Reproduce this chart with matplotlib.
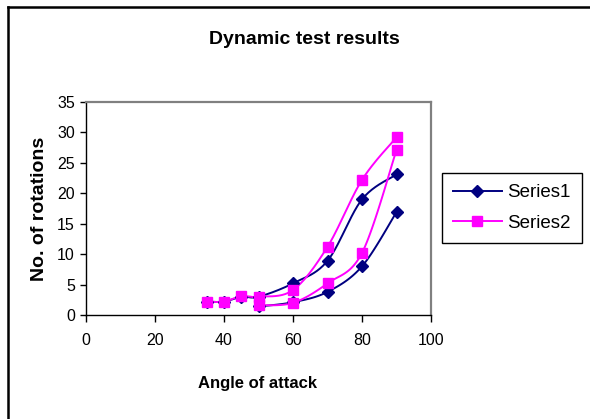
import numpy as np
import matplotlib
matplotlib.use("Agg")
import matplotlib.pyplot as plt
from matplotlib.lines import Line2D

plt.rcParams["font.family"] = ["Liberation Sans", "DejaVu Sans"]

# data (two branches per series: rising and falling angle)
s1_up_x = [35, 40, 45, 50, 60, 70, 80, 90]
s1_up_y = [2.2, 2.2, 3.0, 3.0, 5.2, 8.9, 19.0, 23.1]
s1_dn_x = [50, 60, 70, 80, 90]
s1_dn_y = [1.4, 2.1, 3.8, 8.0, 16.9]

s2_up_x = [35, 40, 45, 50, 60, 70, 80, 90]
s2_up_y = [2.2, 2.2, 3.1, 3.0, 4.1, 11.2, 22.2, 29.2]
s2_dn_x = [50, 60, 70, 80, 90]
s2_dn_y = [1.6, 2.0, 5.2, 10.2, 27.1]

x_ticks = [0, 20, 40, 60, 80, 100]
y_ticks = [0, 5, 10, 15, 20, 25, 30, 35]

NAVY = "#000080"
MAGENTA = "#FF00FF"


def smooth(xs, ys, n=24):
    # Catmull-Rom curve through the points, like Excel's smoothed line
    p = np.column_stack([xs, ys]).astype(float)
    p = np.vstack([p[0], p, p[-1]])
    out = []
    for i in range(1, len(p) - 2):
        p0, p1, p2, p3 = p[i - 1], p[i], p[i + 1], p[i + 2]
        t = np.linspace(0, 1, n)[:, None]
        seg = 0.5 * ((2 * p1) + (-p0 + p2) * t
                     + (2 * p0 - 5 * p1 + 4 * p2 - p3) * t ** 2
                     + (-p0 + 3 * p1 - 3 * p2 + p3) * t ** 3)
        out.append(seg if i == 1 else seg[1:])
    c = np.vstack(out)
    return c[:, 0], c[:, 1]


fig = plt.figure(figsize=(5.9, 4.19), dpi=100)
ax = fig.add_axes([86 / 590, 1 - 315 / 419, 345 / 590, 213 / 419])

for (ux, uy, dx, dy, col, mk, ms) in [
    (s1_up_x, s1_up_y, s1_dn_x, s1_dn_y, NAVY, "D", 6.5),
    (s2_up_x, s2_up_y, s2_dn_x, s2_dn_y, MAGENTA, "s", 7),
]:
    for xs, ys in [(ux, uy), (dx, dy)]:
        cx, cy = smooth(xs, ys)
        ax.plot(cx, cy, color=col, lw=1.4, zorder=2)
        ax.plot(xs, ys, ls="none", marker=mk, ms=ms, color=col, zorder=3)

ax.set_xlim(0, 100)
ax.set_ylim(0, 35)
ax.set_xticks(x_ticks)
ax.set_yticks(y_ticks)
ax.tick_params(axis="x", direction="out", length=5, width=1, pad=8, labelsize=11.5)
ax.tick_params(axis="y", direction="out", length=4, width=1, pad=4, labelsize=11.5)
for s in ["left", "bottom"]:
    ax.spines[s].set_color("black")
    ax.spines[s].set_linewidth(1)
for s in ["top", "right"]:
    ax.spines[s].set_color("#808080")
    ax.spines[s].set_linewidth(1.6)

fig.text(304 / 590, 1 - 39 / 419, "Dynamic test results", ha="center", va="center",
         fontsize=14, fontweight="bold")
fig.text(258 / 590, 1 - 383 / 419, "Angle of attack", ha="center", va="center",
         fontsize=12, fontweight="bold")
fig.text(39 / 590, 1 - 209 / 419, "No. of rotations", ha="center", va="center",
         rotation=90, fontsize=14, fontweight="bold")

handles = [
    Line2D([], [], color=NAVY, lw=1.4, marker="D", ms=6.5),
    Line2D([], [], color=MAGENTA, lw=1.4, marker="s", ms=7),
]
leg = fig.legend(handles, ["Series1", "Series2"], loc="center",
                 bbox_to_anchor=(512 / 590, 1 - 208 / 419), fontsize=13.5,
                 frameon=True, fancybox=False, edgecolor="black", framealpha=1,
                 handlelength=2.6, borderpad=0.6, labelspacing=0.7, handletextpad=0.3)
leg.get_frame().set_linewidth(1)

# chart-area border (only top and left edges visible in the reference)
fig.add_artist(Line2D([7.5 / 590, 1], [1 - 7.5 / 419, 1 - 7.5 / 419],
                      transform=fig.transFigure, color="black", lw=1.8))
fig.add_artist(Line2D([7.5 / 590, 7.5 / 590], [0, 1 - 7.5 / 419],
                      transform=fig.transFigure, color="black", lw=1.8))

fig.savefig("out.png", dpi=100)
